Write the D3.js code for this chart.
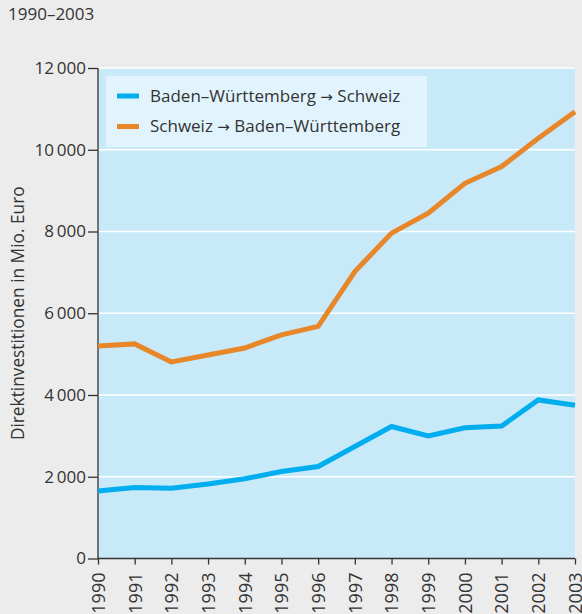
<!DOCTYPE html>
<html>
<head>
<meta charset="utf-8">
<script src="https://cdn.jsdelivr.net/npm/d3@7"></script>
<style>
  body { margin: 0; background: #ececec; }
  svg { display: block; font-family: "Open Sans", sans-serif; }
</style>
</head>
<body>
<svg id="chart" width="582" height="614"></svg>
<script>
// data
const years = [1990, 1991, 1992, 1993, 1994, 1995, 1996, 1997, 1998, 1999, 2000, 2001, 2002, 2003];
const bwToCh = [1650, 1735, 1720, 1825, 1950, 2130, 2250, 2740, 3230, 3000, 3200, 3240, 3880, 3750];
const chToBw = [5200, 5250, 4810, 4980, 5150, 5470, 5680, 7020, 7960, 8450, 9180, 9590, 10280, 10930];
const yTicks = [0, 2000, 4000, 6000, 8000, 10000, 12000];
const seriesFrom = ["Baden–Württemberg", "Schweiz"];
const seriesTo = ["Schweiz", "Baden–Württemberg"];
const seriesColors = ["#00aeef", "#e8862a"];

const svg = d3.select("#chart");
const margin = { left: 98, right: 7, top: 68, bottom: 56 };
const width = +svg.attr("width");
const height = +svg.attr("height");

const x = d3.scaleLinear().domain([1990, 2003]).range([margin.left, width - margin.right]);
const y = d3.scaleLinear().domain([0, 12000]).range([height - margin.bottom + 0.5, margin.top]);

const fmt = v => d3.format(",")(v).replace(/,/g, "\u2009");

// title (mostly above the visible area) and subtitle
svg.append("text").attr("x", 8).attr("y", -3).attr("font-size", 15).attr("font-weight", "bold")
  .attr("fill", "#333").attr("textLength", 356).attr("lengthAdjust", "spacingAndGlyphs")
  .text("Direktinvestitionen Schweiz – Baden-Württemberg");
svg.append("text").attr("x", 8).attr("y", 20).attr("font-size", 17).attr("fill", "#333").text("1990–2003");

// plot background
svg.append("rect")
  .attr("x", x(1990)).attr("y", y(12000))
  .attr("width", x(2003) - x(1990)).attr("height", y(0) - y(12000))
  .attr("fill", "#c8e9f8");

// gridlines
svg.append("g").selectAll("line").data(yTicks.filter(d => d > 0)).enter().append("line")
  .attr("x1", x(1990)).attr("x2", x(2003))
  .attr("y1", d => y(d)).attr("y2", d => y(d))
  .attr("stroke", "#fff").attr("stroke-width", 1.5);

// axes
const yAxis = svg.append("g").attr("transform", `translate(${x(1990)},0)`)
  .call(d3.axisLeft(y).tickValues(yTicks).tickFormat(fmt).tickSize(10).tickPadding(2));
yAxis.selectAll("text").attr("font-size", 17).attr("fill", "#333").style("font-family", "Open Sans, sans-serif");

const xAxis = svg.append("g").attr("transform", `translate(0,${y(0)})`)
  .call(d3.axisBottom(x).tickValues(years).tickFormat(d3.format("d")).tickSize(6).tickPadding(4));
xAxis.selectAll("text")
  .attr("font-size", 18).attr("fill", "#333").style("font-family", "Open Sans, sans-serif")
  .attr("transform", "rotate(-90)")
  .attr("text-anchor", "end").attr("x", -14).attr("y", 0).attr("dy", "0.35em");

svg.selectAll(".domain, .tick line").attr("stroke", "#333").attr("stroke-width", 1.3);
xAxis.select(".domain").attr("d", `M${x(1990)},0H${x(2003)}`);
yAxis.select(".domain").attr("d", `M0,${y(12000)}V${y(0)}`);

// y label
svg.append("text")
  .attr("transform", `translate(24,${(y(0) + y(12000)) / 2}) rotate(-90)`)
  .attr("text-anchor", "middle").attr("font-size", 17.3).attr("fill", "#333")
  .text("Direktinvestitionen in Mio. Euro");

// lines
const line = d3.line().x((d, i) => x(years[i])).y(d => y(d));
[bwToCh, chToBw].forEach((s, i) => {
  svg.append("path").datum(s)
    .attr("d", line)
    .attr("fill", "none")
    .attr("stroke", seriesColors[i])
    .attr("stroke-width", 5)
    .attr("stroke-linejoin", "miter");
});

// legend
const legend = svg.append("g");
legend.append("rect").attr("x", 106).attr("y", 76).attr("width", 321).attr("height", 71).attr("fill", "#e1f3fc");
seriesFrom.forEach((from, i) => {
  const yy = 96 + i * 30.5;
  legend.append("rect").attr("x", 117).attr("y", yy - 2.5).attr("width", 22).attr("height", 5).attr("fill", seriesColors[i]);
  const t = legend.append("text").attr("x", 150).attr("y", yy).attr("dy", "0.35em")
    .attr("font-size", 17).attr("fill", "#333");
  t.append("tspan").text(from + " ");
  t.append("tspan").style("font-family", "DejaVu Sans, sans-serif").attr("font-size", 15).text("→");
  t.append("tspan").text(" " + seriesTo[i]);
});
</script>
</body>
</html>
